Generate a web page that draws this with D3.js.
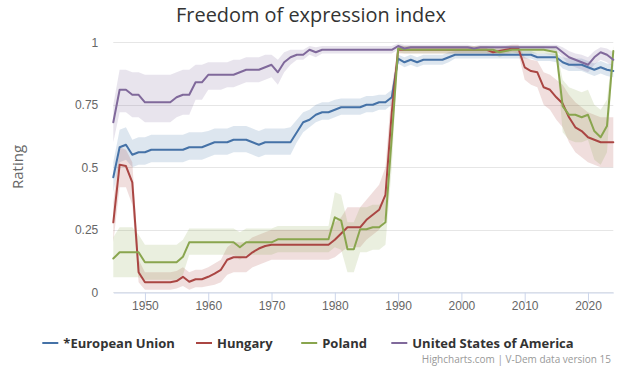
<!DOCTYPE html>
<html><head><meta charset="utf-8">
<script src="https://cdn.jsdelivr.net/npm/d3@7"></script>
<style>
body{margin:0;background:#fff}
svg{display:block;font-family:"Lucida Grande","Lucida Sans Unicode","Open Sans",Arial,sans-serif}
</style></head><body><svg id="c" width="621" height="366"></svg>
<script>
const years = d3.range(1945, 2025);
const seriesNames = ["*European Union", "Hungary", "Poland", "United States of America"];
const seriesColors = ["#4572A7", "#AA4643", "#89A54E", "#80699B"];
const yTicks = [0, 0.25, 0.5, 0.75, 1];
const xTicks = [1950, 1960, 1970, 1980, 1990, 2000, 2010, 2020];

const euValue = [
 0.46,0.58,0.59,0.55,0.56,0.56,0.57,0.57,0.57,0.57,
 0.57,0.57,0.58,0.58,0.58,0.59,0.60,0.60,0.60,0.61,
 0.61,0.61,0.60,0.59,0.60,0.60,0.60,0.60,0.60,0.64,
 0.68,0.69,0.71,0.72,0.72,0.73,0.74,0.74,0.74,0.74,
 0.75,0.75,0.76,0.76,0.78,0.935,0.92,0.93,0.92,0.93,
 0.93,0.93,0.93,0.94,0.95,0.95,0.95,0.95,0.95,0.95,
 0.95,0.95,0.95,0.95,0.95,0.95,0.95,0.94,0.94,0.94,
 0.94,0.92,0.91,0.91,0.91,0.90,0.89,0.90,0.89,0.885];
const euLow = [
 0.40,0.52,0.53,0.50,0.51,0.51,0.52,0.52,0.52,0.52,
 0.52,0.52,0.53,0.53,0.53,0.54,0.55,0.55,0.55,0.56,
 0.56,0.56,0.55,0.54,0.55,0.55,0.55,0.55,0.55,0.60,
 0.64,0.66,0.68,0.69,0.69,0.70,0.71,0.71,0.71,0.71,
 0.72,0.72,0.73,0.73,0.75,0.915,0.90,0.91,0.90,0.91,
 0.91,0.91,0.91,0.92,0.935,0.935,0.935,0.935,0.935,0.935,
 0.935,0.935,0.935,0.935,0.935,0.935,0.935,0.925,0.925,0.925,
 0.92,0.895,0.885,0.885,0.885,0.875,0.865,0.875,0.865,0.86];
const euHigh = [
 0.52,0.65,0.66,0.61,0.62,0.62,0.63,0.63,0.63,0.63,
 0.63,0.63,0.64,0.64,0.64,0.645,0.655,0.655,0.655,0.665,
 0.665,0.665,0.655,0.645,0.655,0.655,0.655,0.655,0.66,0.69,
 0.72,0.73,0.75,0.76,0.76,0.77,0.775,0.775,0.775,0.775,
 0.785,0.785,0.79,0.79,0.81,0.95,0.94,0.95,0.94,0.95,
 0.95,0.95,0.95,0.96,0.965,0.965,0.965,0.965,0.965,0.965,
 0.965,0.965,0.965,0.965,0.965,0.965,0.965,0.955,0.955,0.955,
 0.955,0.94,0.935,0.935,0.935,0.925,0.915,0.925,0.915,0.91];

const huValue = [
 0.28,0.51,0.505,0.44,0.08,0.04,0.04,0.04,0.04,0.04,
 0.045,0.062,0.042,0.052,0.052,0.062,0.075,0.09,0.13,0.14,
 0.14,0.14,0.16,0.175,0.185,0.19,0.19,0.19,0.19,0.19,
 0.19,0.19,0.19,0.19,0.19,0.21,0.235,0.26,0.26,0.26,
 0.29,0.31,0.33,0.39,0.72,0.97,0.97,0.97,0.97,0.97,
 0.97,0.97,0.97,0.97,0.97,0.97,0.97,0.97,0.97,0.97,
 0.96,0.965,0.97,0.975,0.975,0.90,0.885,0.88,0.82,0.81,
 0.78,0.755,0.70,0.66,0.645,0.62,0.61,0.60,0.60,0.60];
const huLow = [
 0.20,0.42,0.42,0.35,0.04,0.01,0.01,0.01,0.01,0.01,
 0.015,0.025,0.01,0.02,0.02,0.025,0.03,0.04,0.07,0.08,
 0.08,0.08,0.10,0.11,0.12,0.13,0.13,0.13,0.13,0.13,
 0.13,0.13,0.13,0.13,0.13,0.14,0.16,0.18,0.18,0.18,
 0.21,0.23,0.25,0.30,0.62,0.955,0.955,0.955,0.955,0.955,
 0.955,0.955,0.955,0.955,0.955,0.955,0.955,0.955,0.955,0.955,
 0.945,0.95,0.955,0.96,0.955,0.85,0.83,0.82,0.75,0.73,
 0.69,0.66,0.60,0.56,0.54,0.52,0.51,0.50,0.50,0.50];
const huHigh = [
 0.36,0.58,0.57,0.52,0.13,0.08,0.08,0.08,0.08,0.08,
 0.085,0.10,0.08,0.09,0.09,0.10,0.115,0.13,0.18,0.20,
 0.20,0.20,0.22,0.23,0.24,0.25,0.25,0.25,0.25,0.25,
 0.25,0.25,0.25,0.25,0.25,0.28,0.30,0.34,0.34,0.34,
 0.37,0.40,0.43,0.50,0.82,0.985,0.985,0.985,0.985,0.985,
 0.985,0.985,0.985,0.985,0.985,0.985,0.985,0.985,0.985,0.985,
 0.975,0.98,0.985,0.99,0.99,0.94,0.93,0.925,0.88,0.87,
 0.85,0.83,0.79,0.76,0.74,0.72,0.71,0.70,0.70,0.70];

const plValue = [
 0.135,0.16,0.16,0.16,0.16,0.12,0.12,0.12,0.12,0.12,
 0.12,0.142,0.20,0.20,0.20,0.20,0.20,0.20,0.20,0.20,
 0.18,0.20,0.20,0.20,0.20,0.20,0.212,0.212,0.212,0.212,
 0.212,0.212,0.212,0.212,0.212,0.30,0.287,0.172,0.172,0.252,
 0.252,0.26,0.26,0.28,0.62,0.975,0.97,0.97,0.97,0.97,
 0.97,0.97,0.97,0.97,0.97,0.97,0.97,0.97,0.97,0.97,
 0.97,0.96,0.965,0.97,0.97,0.97,0.97,0.97,0.97,0.965,
 0.96,0.745,0.71,0.71,0.70,0.71,0.645,0.62,0.665,0.965];
const plLow = [
 0.06,0.06,0.06,0.06,0.06,0.05,0.05,0.05,0.05,0.05,
 0.05,0.07,0.15,0.15,0.15,0.15,0.15,0.15,0.15,0.15,
 0.13,0.15,0.15,0.15,0.15,0.15,0.16,0.16,0.16,0.16,
 0.16,0.16,0.16,0.16,0.16,0.18,0.17,0.08,0.08,0.16,
 0.16,0.17,0.17,0.19,0.50,0.96,0.955,0.955,0.955,0.955,
 0.955,0.955,0.955,0.955,0.955,0.955,0.955,0.955,0.955,0.955,
 0.955,0.94,0.95,0.955,0.955,0.955,0.955,0.955,0.955,0.95,
 0.945,0.64,0.61,0.60,0.60,0.61,0.53,0.51,0.56,0.94];
const plHigh = [
 0.22,0.26,0.26,0.26,0.23,0.19,0.19,0.19,0.19,0.19,
 0.19,0.21,0.255,0.255,0.255,0.255,0.255,0.255,0.255,0.255,
 0.24,0.255,0.255,0.255,0.255,0.255,0.265,0.265,0.265,0.265,
 0.265,0.265,0.265,0.265,0.265,0.40,0.39,0.28,0.28,0.34,
 0.34,0.35,0.35,0.37,0.73,0.99,0.985,0.985,0.985,0.985,
 0.985,0.985,0.985,0.985,0.985,0.985,0.985,0.985,0.985,0.985,
 0.985,0.975,0.98,0.985,0.985,0.985,0.985,0.985,0.985,0.98,
 0.975,0.85,0.82,0.81,0.80,0.81,0.75,0.73,0.77,0.985];

const usValue = [
 0.68,0.81,0.81,0.79,0.79,0.76,0.76,0.76,0.76,0.76,
 0.78,0.79,0.79,0.84,0.84,0.87,0.87,0.87,0.87,0.87,
 0.88,0.89,0.89,0.89,0.90,0.91,0.88,0.92,0.94,0.95,
 0.95,0.97,0.96,0.97,0.97,0.97,0.97,0.97,0.97,0.97,
 0.97,0.97,0.97,0.97,0.97,0.985,0.975,0.98,0.98,0.98,
 0.98,0.98,0.98,0.98,0.98,0.98,0.98,0.975,0.98,0.98,
 0.98,0.98,0.98,0.98,0.98,0.98,0.98,0.98,0.98,0.98,
 0.98,0.96,0.94,0.93,0.92,0.91,0.94,0.96,0.95,0.93];
const usLow = [
 0.60,0.72,0.72,0.70,0.70,0.68,0.68,0.68,0.68,0.68,
 0.70,0.71,0.71,0.77,0.77,0.81,0.81,0.81,0.82,0.82,
 0.83,0.84,0.84,0.84,0.85,0.86,0.83,0.88,0.91,0.93,
 0.93,0.95,0.94,0.955,0.955,0.955,0.955,0.955,0.955,0.955,
 0.955,0.955,0.955,0.955,0.955,0.97,0.965,0.97,0.97,0.97,
 0.97,0.97,0.97,0.97,0.97,0.97,0.97,0.965,0.97,0.97,
 0.97,0.97,0.97,0.97,0.97,0.97,0.97,0.97,0.97,0.97,
 0.965,0.94,0.91,0.90,0.89,0.88,0.91,0.93,0.92,0.90];
const usHigh = [
 0.75,0.89,0.89,0.88,0.88,0.87,0.87,0.87,0.87,0.87,
 0.88,0.89,0.89,0.91,0.91,0.92,0.92,0.92,0.92,0.93,
 0.93,0.94,0.94,0.94,0.95,0.95,0.93,0.96,0.97,0.97,
 0.97,0.985,0.98,0.985,0.985,0.985,0.985,0.985,0.985,0.985,
 0.985,0.985,0.985,0.985,0.985,0.995,0.99,0.99,0.99,0.99,
 0.99,0.99,0.99,0.99,0.99,0.99,0.99,0.985,0.99,0.99,
 0.99,0.99,0.99,0.99,0.99,0.99,0.99,0.99,0.99,0.99,
 0.99,0.98,0.965,0.955,0.95,0.94,0.965,0.98,0.975,0.96];

const seriesValues = [euValue, huValue, plValue, usValue];
const seriesLows = [euLow, huLow, plLow, usLow];
const seriesHighs = [euHigh, huHigh, plHigh, usHigh];

const svg = d3.select("#c");
const plot = {left: 113.3, right: 613.3, top: 42.3, bottom: 292.3};

const x = d3.scaleLinear().domain([1945, 2024]).range([plot.left, plot.right]);
const y = d3.scaleLinear().domain([0, 1]).range([plot.bottom, plot.top]);

function fitWidth(sel, target) {
  const w = sel.node().getComputedTextLength();
  const fs = parseFloat(sel.attr("font-size"));
  if (w > 0) sel.attr("font-size", (fs * target / w).toFixed(2));
}

// title
const title = svg.append("text").attr("x", 311).attr("y", 22).attr("text-anchor", "middle")
  .attr("font-size", 18).attr("fill", "#333").text("Freedom of expression index");
fitWidth(title, 270);

// grid
svg.append("g").selectAll("line").data(yTicks).join("line")
  .attr("x1", plot.left).attr("x2", plot.right)
  .attr("y1", d => Math.round(y(d)) + 0.5).attr("y2", d => Math.round(y(d)) + 0.5)
  .attr("stroke", "#e6e6e6").attr("stroke-width", 1);

// y axis labels
const yAxis = d3.axisLeft(y).tickValues(yTicks).tickSize(0).tickPadding(15)
  .tickFormat(d => String(d));
const gy = svg.append("g").attr("transform", `translate(${plot.left},0)`).call(yAxis);
gy.select(".domain").remove();
gy.selectAll("text").attr("fill", "#666").attr("font-size", 12).attr("font-family", null);

// y title
svg.append("text").attr("transform", "translate(23,167) rotate(-90)")
  .attr("text-anchor", "middle").attr("font-size", 15).attr("fill", "#666").text("Rating");

// x axis
const xAxis = d3.axisBottom(x).tickValues(xTicks).tickFormat(d3.format("d"))
  .tickSize(10).tickSizeOuter(0).tickPadding(-1);
const gx = svg.append("g").attr("transform", `translate(0,${Math.round(plot.bottom) + 0.5})`).call(xAxis);
gx.select(".domain").attr("stroke", "#ccd6eb");
gx.selectAll(".tick line").attr("stroke", "#ccd6eb");
gx.selectAll("text").attr("fill", "#666").attr("font-size", 12).attr("font-family", null);

// bands and lines
const area = d3.area().x(d => x(d.year)).y0(d => y(d.low)).y1(d => y(d.high));
const line = d3.line().x(d => x(d.year)).y(d => y(d.v));

const bandG = svg.append("g");
const lineG = svg.append("g");
seriesNames.forEach((name, i) => {
  const data = years.map((yr, k) => ({year: yr, low: seriesLows[i][k], high: seriesHighs[i][k]}));
  bandG.append("path").datum(data).attr("d", area)
    .attr("fill", seriesColors[i]).attr("fill-opacity", 0.18).attr("stroke", "none");
});
seriesNames.forEach((name, i) => {
  const data = years.map((yr, k) => ({year: yr, v: seriesValues[i][k]}));
  lineG.append("path").datum(data).attr("d", line)
    .attr("fill", "none").attr("stroke", seriesColors[i]).attr("stroke-width", 2)
    .attr("stroke-linejoin", "round").attr("stroke-linecap", "round");
});

// legend
const legendSymX = [42.3, 196, 301.2, 391.3];
const legendY = 343;
seriesNames.forEach((name, i) => {
  svg.append("line").attr("x1", legendSymX[i]).attr("x2", legendSymX[i] + 16)
    .attr("y1", legendY).attr("y2", legendY)
    .attr("stroke", seriesColors[i]).attr("stroke-width", 2);
  svg.append("text").attr("x", legendSymX[i] + 21).attr("y", legendY + 4.5)
    .attr("font-size", 13).attr("font-weight", "bold").attr("fill", "#333").text(name);
});

// credits
svg.append("text").attr("x", 611).attr("y", 363).attr("text-anchor", "end")
  .attr("font-size", 10).attr("fill", "#999").text("Highcharts.com | V-Dem data version 15");
</script></body></html>
